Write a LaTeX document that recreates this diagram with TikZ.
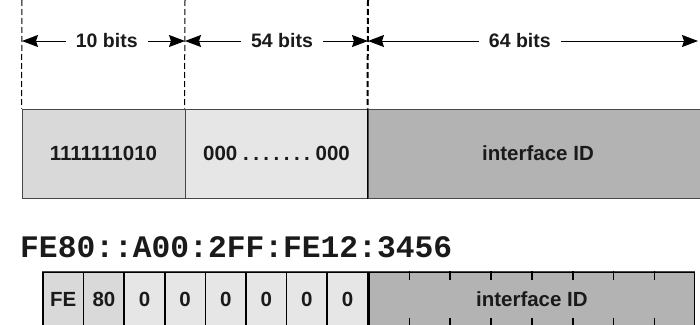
\documentclass[tikz,border=0pt]{standalone}
\usepackage{fontspec}
\setmainfont{Liberation Sans}
\newfontfamily\addrfont{Liberation Mono}
\usetikzlibrary{arrows.meta,positioning,calc}
\definecolor{cellA}{RGB}{217,217,217}
\definecolor{cellB}{RGB}{230,230,230}
\definecolor{cellID}{RGB}{179,179,179}
\definecolor{edge}{RGB}{72,72,72}
\definecolor{ink}{RGB}{26,26,26}

\begin{document}
\begin{tikzpicture}[x=1pt, y=-1pt,
  cell/.style={draw=edge, line width=1pt, inner sep=0pt, text=ink,
               font=\fontsize{20.5}{24}\selectfont\bfseries},
  small/.style={cell, draw=black, line width=1.6pt, minimum width=40.6pt, minimum height=54pt},
  guide/.style={dashed, line width=1pt, dash pattern=on 6pt off 3pt},
  dim/.style={{Stealth[length=16pt,width=12pt,inset=2pt]}-{Stealth[length=16pt,width=12pt,inset=2pt]}, line width=1pt},
  lbl/.style={fill=white, inner xsep=10pt, inner ysep=2pt, text=ink, font=\fontsize{19.5}{22}\selectfont\bfseries}]
  \useasboundingbox (0,0) rectangle (700,324);

  % upper address layout
  \node[cell, fill=cellA, minimum width=163pt, minimum height=89pt] (c1) at (103.5,153.5) {1111111010};
  \node[cell, fill=cellB, minimum width=183pt, minimum height=89pt] (c2) at (276.5,153.5)
    {000\ .\hspace{4.5pt}.\hspace{4.5pt}.\hspace{4.5pt}.\hspace{4.5pt}.\hspace{4.5pt}.\hspace{4.5pt}.\ 000};
  \node[cell, fill=cellID, minimum width=340pt, minimum height=89pt] (c3) at (538,153.5) {interface ID};
  \draw[black, line width=1.6pt] (c3.north west) -- (c3.south west);

  % guides and bit widths
  \coordinate (d1) at (22,0);
  \coordinate (d2) at (185,0);
  \coordinate (d3) at (368,0);
  \draw[guide] (d1) -- (c1.north west);
  \draw[guide] (d2) -- (c2.north west);
  \draw[guide, line width=2pt] (d3) -- (c3.north west);
  \coordinate (a1) at (22,41);
  \coordinate (a2) at (185,41);
  \coordinate (a3) at (368,41);
  \coordinate (a4) at (698,41);
  \draw[dim] (a1) -- node[lbl, pos=0.52] {10 bits} (a2);
  \draw[dim] (a2) -- node[lbl, pos=0.53] {54 bits} (a3);
  \draw[dim] (a3) -- node[lbl, pos=0.46] {64 bits} (a4);

  % example address
  \node[anchor=west, inner sep=0pt, text=ink, font=\addrfont\fontsize{31.3}{34}\selectfont\bfseries]
    (addr) at (20,247) {FE80::A00:2FF:FE12:3456};

  % lower byte layout
  \foreach \t [count=\i] in {FE,80,0,0,0,0,0,0} {
    \ifnum\i<3 \def\fc{cellA}\else\def\fc{cellB}\fi
    \node[small, fill=\fc] (b\i) at ({43+20.3+(\i-1)*40.6},299) {\t};
  }
  \node[cell, fill=cellID, draw=black, line width=1.6pt, minimum width=325pt, minimum height=54pt,
        anchor=west] (bid) at (b8.east) {interface ID};
  \draw[edge, line width=1pt] (b1.north west) -- (bid.north east);
  \foreach \k in {1,...,7} {
    \draw[black, line width=1.6pt] ($(bid.north west)!\k/8!(bid.north east)$) -- ++(0,9);
    \draw[black, line width=1.6pt] ($(bid.south west)!\k/8!(bid.south east)$) -- ++(0,-9);
  }
\end{tikzpicture}
\end{document}
